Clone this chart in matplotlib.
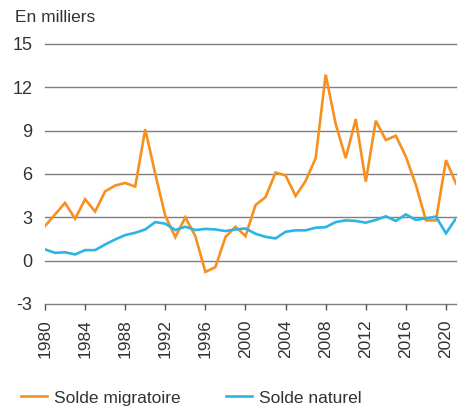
import matplotlib
matplotlib.use("Agg")
import matplotlib.pyplot as plt
import numpy as np

years = list(range(1980, 2022))

solde_migratoire = [2.4, 3.2, 4.0, 2.9, 4.25, 3.4, 4.8, 5.2, 5.38, 5.13,
                    9.1, 6.0, 3.1, 1.63, 3.0, 1.7, -0.78, -0.45, 1.63, 2.35,
                    1.7, 3.85, 4.4, 6.1, 5.9, 4.48, 5.52, 7.1, 12.88, 9.45,
                    7.1, 9.8, 5.47, 9.69, 8.35, 8.65, 7.2, 5.24, 2.79, 2.79,
                    6.96, 5.34]

solde_naturel = [0.78, 0.54, 0.58, 0.43, 0.73, 0.73, 1.12, 1.47, 1.77, 1.93,
                 2.16, 2.67, 2.56, 2.12, 2.35, 2.12, 2.2, 2.16, 2.05, 2.16,
                 2.23, 1.86, 1.65, 1.54, 2.0, 2.1, 2.1, 2.28, 2.32, 2.67,
                 2.79, 2.75, 2.63, 2.82, 3.07, 2.75, 3.2, 2.82, 2.93, 3.05,
                 1.89, 2.93]

y_ticks = [-3, 0, 3, 6, 9, 12, 15]
x_ticks = list(range(1980, 2021, 4))

orange = "#f7901e"
blue = "#2cb5e3"
text_col = "#333333"

plt.rcParams["font.family"] = ["Liberation Sans", "DejaVu Sans"]
plt.rcParams["font.size"] = 12.5

fig = plt.figure(figsize=(4.65, 4.07), dpi=100)
ax = fig.add_axes([45 / 465, 1 - 304 / 407, 411 / 465, 260 / 407])

ax.plot(years, solde_migratoire, color=orange, lw=1.9, label="Solde migratoire",
        solid_joinstyle="miter", zorder=3)
ax.plot(years, solde_naturel, color=blue, lw=1.9, label="Solde naturel",
        solid_joinstyle="miter", zorder=3)

ax.set_xlim(1980, 2021)
ax.set_ylim(-3, 15)
ax.set_yticks(y_ticks)
ax.set_yticklabels([str(v) for v in y_ticks], color=text_col, fontsize=13)
ax.set_xticks(x_ticks)
ax.set_xticklabels([str(v) for v in x_ticks], rotation=90, color=text_col)

# horizontal grid only
for v in y_ticks:
    ax.axhline(v, color="#7f7f7f", lw=1, zorder=1, clip_on=False)

for s in ["left", "top", "right", "bottom"]:
    ax.spines[s].set_visible(False)

ax.tick_params(axis="y", length=0, pad=9)
ax.tick_params(axis="x", length=4, width=1, color="#555555", pad=7, direction="out")

fig.text(15 / 465, 1 - 17 / 407, "En milliers", ha="left", va="center",
         color=text_col)

fig.legend(loc="center left", bbox_to_anchor=(14 / 465, 1 - 398 / 407), ncol=2,
           frameon=False, handlelength=1.5, handletextpad=0.4, columnspacing=2.6,
           borderaxespad=0, labelcolor=text_col)

fig.savefig("out.png", dpi=100)
